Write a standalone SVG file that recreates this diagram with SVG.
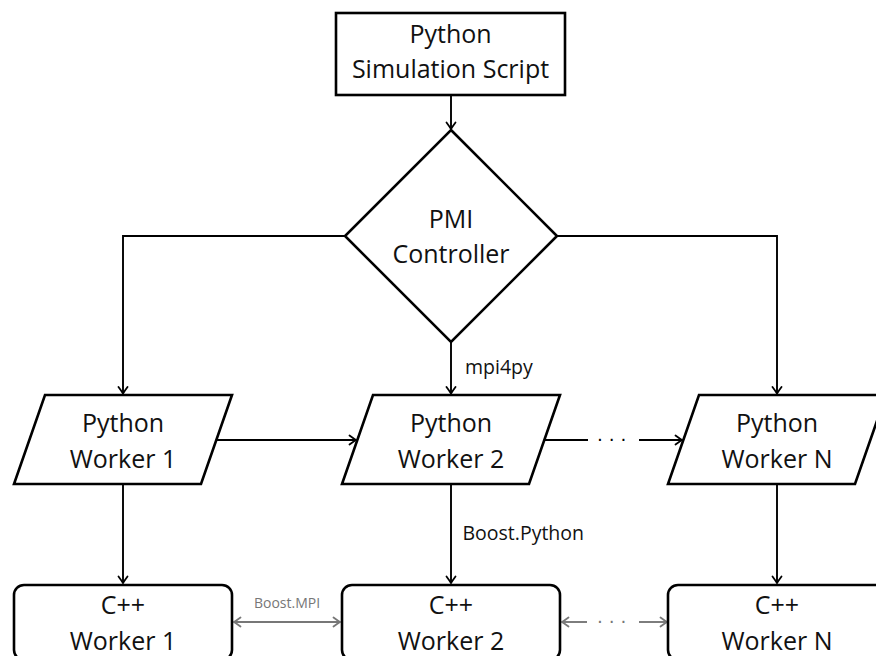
<svg xmlns="http://www.w3.org/2000/svg" width="876" height="656" viewBox="0 0 876 656">
<style>
.node{fill:#fff;stroke:#000;stroke-width:2.6;stroke-linejoin:miter}
.lbl{font-family:"Open Sans","Noto Sans","DejaVu Sans",sans-serif;font-size:25px;fill:#111;text-anchor:middle}
.edge{fill:none;stroke:#000;stroke-width:1.9}
.gedge{fill:none;stroke:#777;stroke-width:1.9}
.elbl{font-family:"Open Sans","Noto Sans","DejaVu Sans",sans-serif;font-size:19.5px;fill:#111}
.glbl{font-family:"Open Sans","Noto Sans","DejaVu Sans",sans-serif;font-size:14px;fill:#777;text-anchor:middle}
.dots{font-family:"DejaVu Sans",sans-serif;font-size:18.4px;text-anchor:middle}
</style>
<defs>
<marker id="ah" viewBox="-8 -6 10 12" refX="0" refY="0" markerWidth="10" markerHeight="12" markerUnits="userSpaceOnUse" orient="auto-start-reverse">
<path d="M-6.5,-4.5 Q-2,-1.2 0,0 Q-2,1.2 -6.5,4.5" fill="none" stroke="#000" stroke-width="1.8" stroke-linecap="round"/>
</marker>
<marker id="gah" viewBox="-8 -6 10 12" refX="0" refY="0" markerWidth="10" markerHeight="12" markerUnits="userSpaceOnUse" orient="auto-start-reverse">
<path d="M-6.5,-4.5 Q-2,-1.2 0,0 Q-2,1.2 -6.5,4.5" fill="none" stroke="#777" stroke-width="1.8" stroke-linecap="round"/>
</marker>
</defs>

<g id="connectors">
<path class="edge" d="M451,95 V129" marker-end="url(#ah)"/>
<path class="edge" d="M345,236 H123 V393.5" marker-end="url(#ah)"/>
<path class="edge" d="M557,236 H777 V393.5" marker-end="url(#ah)"/>
<path class="edge" d="M451,342 V393.5" marker-end="url(#ah)"/>
<text class="elbl" x="465" y="374">mpi4py</text>
<path class="edge" d="M216,440 H356" marker-end="url(#ah)"/>
<path class="edge" d="M544,440 H588"/>
<text class="dots" x="611.7" y="446">· · ·</text>
<path class="edge" d="M639,440 H682" marker-end="url(#ah)"/>
<path class="edge" d="M123,484 V583" marker-end="url(#ah)"/>
<path class="edge" d="M451,484 V583" marker-end="url(#ah)"/>
<text class="elbl" x="462.5" y="540">Boost.Python</text>
<path class="edge" d="M777,484 V583" marker-end="url(#ah)"/>
<path class="gedge" d="M234,622 H340" marker-start="url(#gah)" marker-end="url(#gah)"/>
<text class="glbl" x="287" y="608">Boost.MPI</text>
<path class="gedge" d="M562,622 H587" marker-start="url(#gah)"/>
<text class="dots" x="611.7" y="628" fill="#777">· · ·</text>
<path class="gedge" d="M639,622 H667" marker-end="url(#gah)"/>
</g>

<g id="script">
<rect class="node" x="336" y="13" width="229" height="82"/>
<text class="lbl" x="450.5" y="43.3">Python</text>
<text class="lbl" x="450.5" y="77.7">Simulation Script</text>
</g>

<g id="controller">
<polygon class="node" points="451,130 557,236 451,342 345,236"/>
<text class="lbl" x="451" y="228">PMI</text>
<text class="lbl" x="451" y="263">Controller</text>
</g>

<g id="pyworker1">
<polygon class="node" points="45,395 232,395 201,484 14,484"/>
<text class="lbl" x="123" y="431.7">Python</text>
<text class="lbl" x="123" y="468">Worker 1</text>
</g>

<g id="pyworker2">
<polygon class="node" points="373,395 560,395 529,484 342,484"/>
<text class="lbl" x="451" y="431.7">Python</text>
<text class="lbl" x="451" y="468">Worker 2</text>
</g>

<g id="pyworkerN">
<polygon class="node" points="699,395 886,395 855,484 668,484"/>
<text class="lbl" x="777" y="431.7">Python</text>
<text class="lbl" x="777" y="468">Worker N</text>
</g>

<g id="cppworker1">
<rect class="node" x="14" y="585" width="218" height="75" rx="10"/>
<text class="lbl" x="123" y="614">C++</text>
<text class="lbl" x="123" y="650">Worker 1</text>
</g>

<g id="cppworker2">
<rect class="node" x="342" y="585" width="218" height="75" rx="10"/>
<text class="lbl" x="451" y="614">C++</text>
<text class="lbl" x="451" y="650">Worker 2</text>
</g>

<g id="cppworkerN">
<rect class="node" x="668" y="585" width="218" height="75" rx="10"/>
<text class="lbl" x="777" y="614">C++</text>
<text class="lbl" x="777" y="650">Worker N</text>
</g>
</svg>
